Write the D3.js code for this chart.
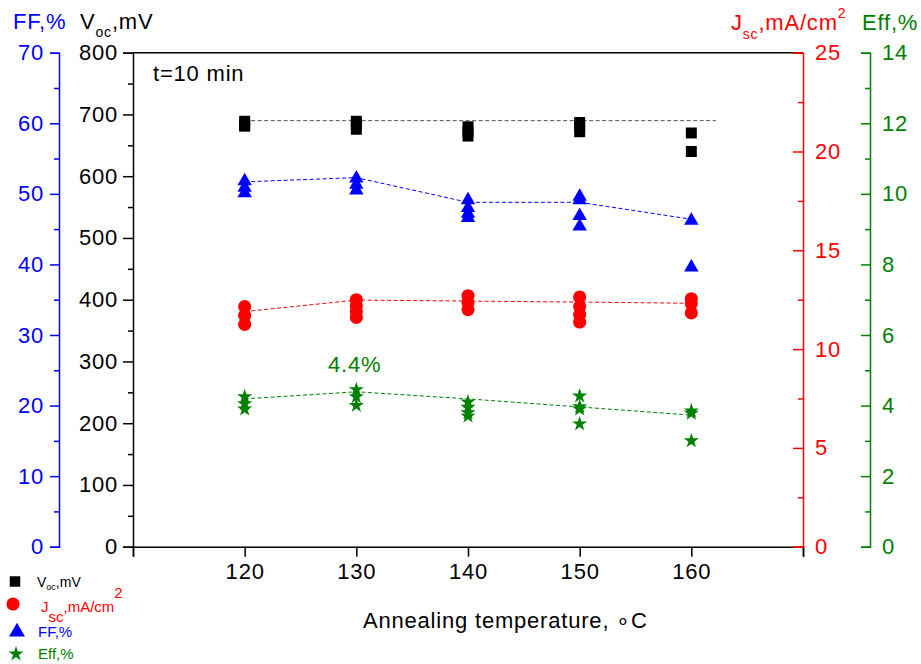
<!DOCTYPE html>
<meta charset="utf-8">
<head>
  <script src="https://d3js.org/d3.v7.min.js"></script>
  <style>
    body { margin: 0; background: #fff; }
    svg { font-family: "Liberation Sans", Arial, sans-serif; }
  </style>
</head>
<body>
<svg width="921" height="664"></svg>
<script>
// annealing temperatures (x) and repeated measurements at each one
var temps = [120, 130, 140, 150, 160];
var vocVals = [[689, 683, 681], [689, 684, 676], [680, 673, 665], [687, 680, 672], [670, 640]];
var ffVals = [[51.8, 50.9, 50.1], [52.2, 51.3, 50.5], [49.1, 48.0, 47.2, 46.6], [49.6, 49.1, 46.9, 45.4], [46.2, 39.6]];
var jscVals = [[12.15, 11.7, 11.25], [12.5, 12.2, 11.9, 11.6], [12.7, 12.35, 12.0], [12.64, 12.15, 11.75, 11.37], [12.55, 12.3, 11.83]];
var effVals = [[4.25, 4.05, 3.9], [4.45, 4.25, 4.0], [4.1, 3.95, 3.8, 3.7], [4.27, 3.97, 3.9, 3.48], [3.85, 3.78, 3.0]];

// dashed trend lines
var vocTrendX = [120, 162.2];
var vocTrend = [690, 690];
var ffTrend = [51.7, 52.3, 48.8, 48.8, 46.4];
var jscTrend = [11.9, 12.48, 12.43, 12.38, 12.32];
var effTrend = [4.19, 4.39, 4.19, 3.96, 3.73];

var xTicks = [110, 120, 130, 140, 150, 160, 170];

var svg = d3.select("svg");
var plotL = 133, plotR = 803, plotT = 52.7, plotB = 546.7;
var FS = "22px", LS = "0.8px";

var x = d3.scaleLinear().domain([110, 170]).range([plotL, plotR]);
var yV = d3.scaleLinear().domain([0, 800]).range([plotB, plotT]);
var yF = d3.scaleLinear().domain([0, 70]).range([plotB, plotT]);
var yJ = d3.scaleLinear().domain([0, 25]).range([plotB, plotT]);
var yE = d3.scaleLinear().domain([0, 14]).range([plotB, plotT]);

function styleAxis(g, color) {
  g.selectAll("path").attr("stroke", color).attr("stroke-width", 1.5);
  g.selectAll("line").attr("stroke", color).attr("stroke-width", 1.5);
  g.selectAll("text").attr("fill", color).style("font-size", FS).style("letter-spacing", LS);
}

// top frame
svg.append("line").attr("x1", plotL).attr("x2", plotR).attr("y1", plotT).attr("y2", plotT)
  .attr("stroke", "#000").attr("stroke-width", 1.5);

// x axis
var gx = svg.append("g").attr("transform", "translate(0," + plotB + ")")
  .call(d3.axisBottom(x).tickValues(xTicks).tickSize(10).tickPadding(7)
    .tickFormat(function(d){ return (d == 110 || d == 170) ? "" : d; }));
styleAxis(gx, "#000");

// left black Voc axis
var gv = svg.append("g").attr("transform", "translate(" + plotL + ",0)")
  .call(d3.axisLeft(yV).tickValues(d3.range(0, 801, 100)).tickSize(10).tickPadding(5));
svg.append("g").attr("transform", "translate(" + plotL + ",0)")
  .call(d3.axisLeft(yV).tickValues(d3.range(50, 800, 100)).tickSize(5).tickFormat(""))
  .call(function(g){ styleAxis(g, "#000"); g.select(".domain").remove(); });
styleAxis(gv, "#000");

// outer blue FF axis
var gf = svg.append("g").attr("transform", "translate(59,0)")
  .call(d3.axisLeft(yF).tickValues(d3.range(0, 71, 10)).tickSize(9).tickPadding(6));
svg.append("g").attr("transform", "translate(59,0)")
  .call(d3.axisLeft(yF).tickValues(d3.range(5, 70, 10)).tickSize(5).tickFormat(""))
  .call(function(g){ styleAxis(g, "#0000ff"); g.select(".domain").remove(); });
styleAxis(gf, "#0000ff");

// right red Jsc axis (ticks inward)
var gj = svg.append("g").attr("transform", "translate(" + plotR + ",0)")
  .call(d3.axisRight(yJ).tickValues(d3.range(0, 26, 5)).tickSize(-10).tickPadding(12));
svg.append("g").attr("transform", "translate(" + plotR + ",0)")
  .call(d3.axisRight(yJ).tickValues([2.5, 7.5, 12.5, 17.5, 22.5]).tickSize(-5).tickFormat(""))
  .call(function(g){ styleAxis(g, "#ff0000"); g.select(".domain").remove(); });
styleAxis(gj, "#ff0000");

// outer green Eff axis
var ge = svg.append("g").attr("transform", "translate(870,0)")
  .call(d3.axisRight(yE).tickValues(d3.range(0, 15, 2)).tickSize(-9).tickPadding(12));
svg.append("g").attr("transform", "translate(870,0)")
  .call(d3.axisRight(yE).tickValues(d3.range(1, 14, 2)).tickSize(-5).tickFormat(""))
  .call(function(g){ styleAxis(g, "#008000"); g.select(".domain").remove(); });
styleAxis(ge, "#008000");

// axis titles
function title(xp, yp, color, parts) {
  var t = svg.append("text").attr("x", xp).attr("y", yp).attr("fill", color)
    .style("font-size", FS).style("letter-spacing", LS);
  parts.forEach(function(p) {
    t.append("tspan").text(p[0]).attr("dy", p[1] || 0).style("font-size", p[2] || null);
  });
  return t;
}
title(13, 29, "#0000ff", [["FF,%"]]);
title(80, 29, "#000", [["V"], ["oc", 8, "14px"], [",mV", -8]]);
title(731, 30, "#ff0000", [["J"], ["sc", 9, "14px"], [",mA/cm", -9], ["2", -12, "14px"]]);
title(862, 30, "#008000", [["Eff,%"]]);

svg.append("text").attr("x", 363).attr("y", 628).style("font-size", FS).style("letter-spacing", LS)
  .text("Annealing temperature, \u2218C");
svg.append("text").attr("x", 153).attr("y", 81).style("font-size", FS).style("letter-spacing", LS)
  .text("t=10 min");
svg.append("text").attr("x", 328).attr("y", 372).style("font-size", FS).style("letter-spacing", LS)
  .attr("fill", "#008000").text("4.4%");

// trend lines
function trend(xs, ys, yScale, color) {
  svg.append("path")
    .datum(xs.map(function(d, i){ return [d, ys[i]]; }))
    .attr("d", d3.line().x(function(d){ return x(d[0]); }).y(function(d){ return yScale(d[1]); }))
    .attr("fill", "none").attr("stroke", color).attr("stroke-width", 1)
    .attr("stroke-dasharray", "4,2.5");
}
trend(vocTrendX, vocTrend, yV, "#555");
trend(temps, ffTrend, yF, "#0000ff");
trend(temps, jscTrend, yJ, "#ff0000");
trend(temps, effTrend, yE, "#008000");

// scatter markers
function flat(vals) {
  var out = [];
  vals.forEach(function(arr, i){ arr.forEach(function(v){ out.push([temps[i], v]); }); });
  return out;
}
function markers(vals, yScale, sym, size, color) {
  svg.append("g").selectAll("path").data(flat(vals)).enter().append("path")
    .attr("transform", function(d){ return "translate(" + x(d[0]) + "," + yScale(d[1]) + ")"; })
    .attr("d", d3.symbol().type(sym).size(size))
    .attr("fill", color);
}
markers(effVals, yE, d3.symbolStar, 72, "#008000");
markers(jscVals, yJ, d3.symbolCircle, 135, "#ff0000");
markers(ffVals, yF, d3.symbolTriangle, 90, "#0000ff");
markers(vocVals, yV, d3.symbolSquare, 120, "#000");

// legend
var legend = [
  { sym: d3.symbolSquare, size: 110, color: "#000", x: 15, y: 581.5 },
  { sym: d3.symbolCircle, size: 135, color: "#ff0000", x: 13, y: 604 },
  { sym: d3.symbolTriangle, size: 110, color: "#0000ff", x: 17, y: 632 },
  { sym: d3.symbolStar, size: 72, color: "#008000", x: 16, y: 654 }
];
legend.forEach(function(l) {
  svg.append("path").attr("transform", "translate(" + l.x + "," + l.y + ")")
    .attr("d", d3.symbol().type(l.sym).size(l.size)).attr("fill", l.color);
});
var lv = svg.append("text").attr("x", 37).attr("y", 587).style("font-size", "14px");
lv.append("tspan").text("V");
lv.append("tspan").text("oc").attr("dy", 3).style("font-size", "9px");
lv.append("tspan").text(",mV").attr("dy", -3);
var lj = svg.append("text").attr("x", 41).attr("y", 612).attr("fill", "#ff0000").style("font-size", "15px");
lj.append("tspan").text("J");
lj.append("tspan").text("sc").attr("dy", 10);
lj.append("tspan").text(",mA/cm").attr("dy", -10);
lj.append("tspan").text("2").attr("dy", -14);
svg.append("text").attr("x", 38).attr("y", 637).attr("fill", "#0000ff").style("font-size", "15px").text("FF,%");
svg.append("text").attr("x", 38).attr("y", 659).attr("fill", "#008000").style("font-size", "15px").text("Eff,%");
</script>
</body>
